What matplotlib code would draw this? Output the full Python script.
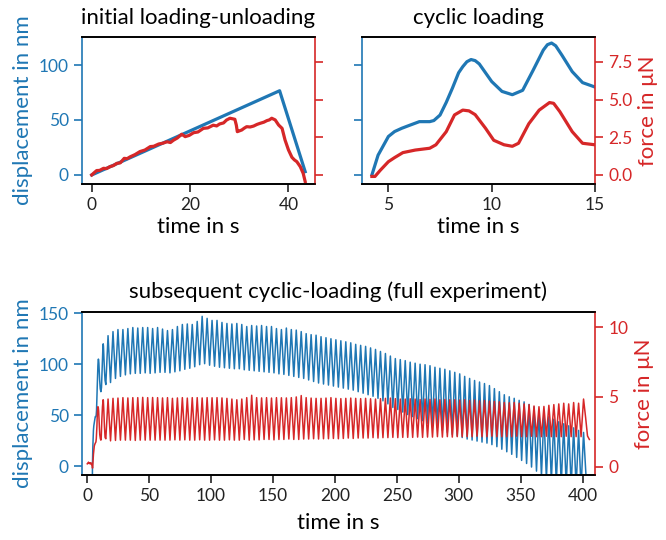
import numpy as np
import matplotlib
matplotlib.use("Agg")
import matplotlib.pyplot as plt

plt.rcParams['font.family'] = ['Lato', 'DejaVu Sans']

blue = "#1f77b4"
red = "#d62728"

# initial loading-unloading
init_t_disp = [0, 38.2, 43.4]
init_disp = [0, 76.6, 3]
init_t_force = [0, 0.5, 1.0, 1.6, 2.4, 3.0, 3.7, 4.4, 5.1, 5.8, 6.6, 7.2, 7.8, 8.8, 9.8, 10.8,
                11.9, 12.6, 13.6, 14.4, 15.3, 16.0, 16.6, 17.4, 18.3, 19.0, 19.8, 20.7, 21.6,
                22.7, 23.6, 24.7, 25.4, 26.0, 26.8, 27.4, 28.1, 28.7, 29.1, 29.4, 29.6, 30.0,
                30.5, 31.0, 31.5, 32.2, 32.9, 33.6, 34.2, 35.0, 35.6, 36.1, 36.6, 37.3, 38.0,
                38.7, 39.3, 40.0, 40.7, 41.2, 41.7, 42.4, 43.0, 43.4]
init_force = [0, 0.15, 0.29, 0.3, 0.44, 0.42, 0.55, 0.62, 0.77, 0.8, 1.1, 1.08, 1.2, 1.35, 1.55,
              1.65, 1.88, 1.9, 2.05, 2.1, 2.2, 2.15, 2.3, 2.45, 2.7, 2.54, 2.62, 2.8, 2.85,
              3.09, 3.12, 3.3, 3.25, 3.38, 3.45, 3.64, 3.76, 3.72, 3.69, 3.3, 2.87, 2.92,
              2.98, 3.1, 3.2, 3.18, 3.24, 3.35, 3.42, 3.5, 3.6, 3.65, 3.76, 3.65, 3.31,
              3.09, 2.32, 1.66, 1.17, 1.0, 0.88, 0.55, 0.1, -0.44]

# cyclic loading (start of the full experiment)
cyc_t_disp = [4.2, 4.5, 5.0, 5.3, 5.65, 6.0, 6.5, 7.0, 7.2, 7.5, 7.8, 8.1, 8.4, 8.6, 8.8, 9.0,
              9.2, 9.4, 9.7, 10.0, 10.5, 11.0, 11.5, 12.0, 12.5, 12.7, 12.9, 13.1, 13.4, 13.9,
              14.4, 15.0]
cyc_disp = [0, 18, 35, 39.5, 42.5, 45, 48.5, 48.5, 49.5, 54.5, 66, 79, 93, 98.5, 103, 105,
            104, 101, 93, 85, 76, 73, 77, 95, 113.6, 118.5, 120, 117.5, 109, 94, 84, 80]
cyc_t_force = [4.2, 4.35, 4.6, 5.0, 5.3, 5.7, 6.3, 7.0, 7.3, 7.8, 8.2, 8.6, 8.9, 9.2, 9.7,
               10.1, 10.6, 11.0, 11.3, 11.8, 12.3, 12.8, 13.0, 13.3, 13.9, 14.4, 15.0]
cyc_force = [-0.1, -0.1, 0.3, 0.88, 1.15, 1.48, 1.65, 1.77, 2.0, 2.87, 3.98, 4.3, 4.25, 4.0,
             3.1, 2.3, 2.0, 1.9, 2.1, 3.4, 4.3, 4.8, 4.75, 4.2, 2.87, 2.1, 2.0]

# full experiment: before loading starts
pre_t_disp = [0, 4.1]
pre_disp = [-30, -30]
pre_t_force = [0, 0.5, 1.0, 1.5, 2.0, 2.5, 3.0, 3.5, 4.0]
pre_force = [0.2, 0.25, 0.32, 0.22, 0.25, 0.2, 0.28, 0.15, 0.05]

# full experiment: one peak / trough per cycle after 15 s (period 4 s)
first_peak = 16.8
period = 4.0
disp_peaks = [128, 132, 134, 134, 135, 136, 135.5, 136, 136, 135,
              136, 134.5, 133, 134, 137, 139, 139.5, 139, 142, 147,
              145, 143, 143, 141, 140, 139.5, 140, 139, 137, 138,
              137.5, 138, 137, 137, 135, 134, 135.5, 134, 133.5, 132,
              130, 129, 128.5, 127, 126, 125, 124, 123, 122, 121,
              119.5, 118.5, 117.5, 116, 114.5, 112.5, 110.5, 108, 105.5, 104.5,
              103.5, 102, 101, 100, 99.5, 98.5, 97, 96, 95, 93.5,
              92, 90.5, 88, 86, 84, 82.5, 81, 79, 76, 73,
              70, 68, 66.5, 64.5, 63, 60.5, 58, 55, 51.5, 48.5,
              46, 43.5, 41.5, 39.5, 37.5, 35, 33]
disp_troughs = [82, 86, 88, 89.5, 90.5, 91, 91, 91.5, 91, 91.5,
                92, 92, 91.5, 92.5, 93.5, 95, 96, 97.5, 99.5, 100.5,
                99, 98, 97, 96.5, 96, 95.5, 95.5, 94.5, 94, 93.5,
                93, 92.5, 92, 91.5, 90.5, 90, 89, 88, 87, 86,
                84.5, 83, 81.5, 80.5, 79.5, 78.5, 77.5, 76.5, 75.5, 74.5,
                73, 71.5, 70, 68.5, 66.5, 64, 61, 57.5, 55.5, 53,
                50.5, 48.5, 46.5, 44.5, 42, 39.5, 37.5, 35, 33, 31,
                29.5, 28, 26.5, 25.5, 24.5, 23.5, 22.5, 21, 19, 16.5,
                14, 11.5, 8.5, 5.5, 2.5, -1, -5, -10, -13, -15,
                -17, -18, -19, -20, -21, -22]
force_peaks = [4.85, 4.9, 4.92, 4.95, 4.93, 4.95, 4.95, 4.97, 4.95, 4.96,
               4.95, 4.93, 4.95, 4.9, 4.93, 4.95, 4.92, 4.95, 4.95, 4.93,
               4.95, 4.94, 4.95, 4.93, 4.9, 4.85, 4.8, 4.85, 4.95, 5.12,
               4.95, 4.93, 4.95, 4.92, 4.95, 4.94, 4.93, 4.95, 5.0, 5.1,
               4.95, 4.92, 4.9, 4.9, 4.92, 4.95, 4.9, 4.88, 4.9, 4.92,
               4.9, 4.88, 4.9, 4.87, 4.85, 4.88, 4.9, 4.92, 4.88, 4.85,
               4.85, 4.87, 4.85, 4.82, 4.85, 4.83, 4.85, 4.8, 4.82, 4.8,
               4.8, 4.78, 4.8, 4.75, 4.78, 4.72, 4.75, 4.7, 4.68, 4.65,
               4.6, 4.58, 4.6, 4.55, 4.5, 4.45, 4.35, 4.3, 4.32, 4.4,
               4.45, 4.5, 4.55, 4.5, 4.6, 4.55, 4.85]
force_troughs = [1.85, 1.88, 1.9, 1.9, 1.9, 1.88, 1.9, 1.9, 1.9, 1.9,
                 1.9, 1.9, 1.9, 1.92, 1.9, 1.92, 1.9, 1.9, 1.92, 1.9,
                 1.9, 1.92, 1.9, 1.9, 1.92, 1.9, 1.9, 1.95, 1.9, 1.92,
                 1.92, 1.95, 1.95, 1.92, 1.95, 1.95, 1.98, 1.95, 1.95, 1.98,
                 1.98, 2.0, 1.98, 2.0, 2.0, 2.02, 2.0, 2.02, 2.05, 2.02,
                 2.05, 2.05, 2.05, 2.08, 2.05, 2.08, 2.08, 2.1, 2.08, 2.1,
                 2.1, 2.1, 2.12, 2.1, 2.12, 2.12, 2.15, 2.12, 2.15, 2.12,
                 2.15, 2.15, 2.15, 2.15, 2.18, 2.15, 2.15, 2.18, 2.15, 2.15,
                 2.15, 2.15, 2.18, 2.15, 2.15, 2.18, 2.15, 2.15, 2.18, 2.15,
                 2.15, 2.15, 2.18, 2.15, 2.15, 2.15]
# end of the experiment
end_t_disp = [403.5]
end_disp = [-25]
end_t_force = [402.5, 404.0, 405.5]
end_force = [3.5, 2.2, 1.95]


def cycles(peaks, troughs):
    t, v = [], []
    for k, p in enumerate(peaks):
        t.append(first_peak + k * period)
        v.append(p)
        if k < len(troughs):
            t.append(first_peak + (k + 0.5) * period)
            v.append(troughs[k])
    return t, v


ct, cv = cycles(disp_peaks, disp_troughs)
full_t_disp = pre_t_disp + cyc_t_disp + ct + end_t_disp
full_disp = pre_disp + cyc_disp + cv + end_disp
ct, cv = cycles(force_peaks, force_troughs)
full_t_force = pre_t_force + cyc_t_force + ct + end_t_force
full_force = pre_force + cyc_force + cv + end_force

FS = 16
TS = 12.5


def style(ax, ax2):
    for a in (ax, ax2):
        for s in a.spines.values():
            s.set_linewidth(1.2)
    ax.spines['left'].set_color(blue)
    ax2.spines['left'].set_visible(False)
    ax2.spines['right'].set_color(red)
    ax.spines['right'].set_visible(False)
    ax.tick_params(axis='y', colors=blue, length=6, width=1.2, labelsize=TS)
    ax.tick_params(axis='x', length=6, width=1.2, labelsize=TS, colors='#222222')
    ax2.tick_params(axis='y', colors=red, length=6, width=1.2, labelsize=TS)


fig = plt.figure(figsize=(6.66, 5.4), dpi=100)

ax1 = fig.add_axes([0.123, 0.6593, 0.350, 0.2722])
ax1b = ax1.twinx()
ax1.plot(init_t_disp, init_disp, color=blue, lw=2.3)
ax1b.plot(init_t_force, init_force, color=red, lw=2.3)
ax1.set_xlim(-2, 45.4)
ax1.set_ylim(-8.2, 125.5)
ax1b.set_ylim(-0.6, 9.15)
ax1.set_xticks([0, 20, 40])
ax1.set_yticks([0, 50, 100])
ax1b.set_yticks([0, 2.5, 5, 7.5])
ax1b.set_yticklabels([])
ax1.set_title("initial loading-unloading", fontsize=FS, pad=9)
ax1.set_xlabel("time in s", fontsize=FS, labelpad=3)
ax1.set_ylabel("displacement in nm", color=blue, fontsize=FS)
style(ax1, ax1b)

ax2 = fig.add_axes([0.5435, 0.6593, 0.3498, 0.2722])
ax2b = ax2.twinx()
ax2.plot(cyc_t_disp, cyc_disp, color=blue, lw=2.3)
ax2b.plot(cyc_t_force, cyc_force, color=red, lw=2.3)
ax2.set_xlim(3.72, 15)
ax2.set_ylim(-8.2, 125.5)
ax2b.set_ylim(-0.6, 9.15)
ax2.set_xticks([5, 10, 15])
ax2.set_yticks([0, 50, 100])
ax2.set_yticklabels([])
ax2b.set_yticks([0, 2.5, 5, 7.5])
ax2b.set_yticklabels(["0.0", "2.5", "5.0", "7.5"])
ax2.set_title("cyclic loading", fontsize=FS, pad=9)
ax2.set_xlabel("time in s", fontsize=FS, labelpad=3)
ax2b.set_ylabel("force in μN", color=red, fontsize=FS)
style(ax2, ax2b)

ax3 = fig.add_axes([0.123, 0.1204, 0.7703, 0.3019])
ax3b = ax3.twinx()
ax3.plot(full_t_disp, full_disp, color=blue, lw=1.1)
ax3b.plot(full_t_force, full_force, color=red, lw=1.1)
ax3.set_xlim(-4.3, 410)
ax3.set_ylim(-8.8, 151.3)
ax3b.set_ylim(-0.6, 11.1)
ax3.set_xticks(np.arange(0, 401, 50))
ax3.set_yticks([0, 50, 100, 150])
ax3b.set_yticks([0, 5, 10])
ax3.set_title("subsequent cyclic-loading (full experiment)", fontsize=FS, pad=10)
ax3.set_xlabel("time in s", fontsize=FS, labelpad=6)
ax3.set_ylabel("displacement in nm", color=blue, fontsize=FS)
ax3b.set_ylabel("force in μN", color=red, fontsize=FS)
style(ax3, ax3b)

fig.savefig("out.png", dpi=100)
